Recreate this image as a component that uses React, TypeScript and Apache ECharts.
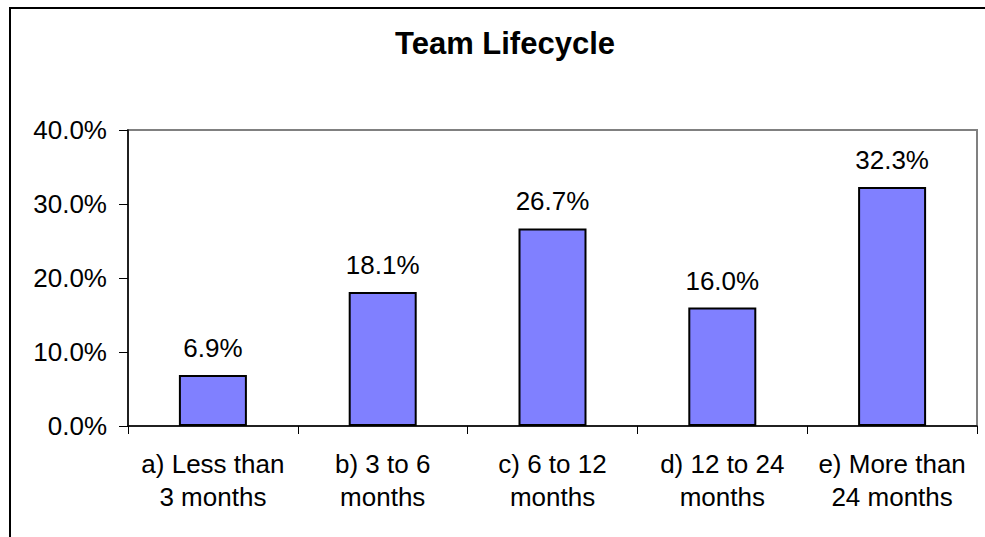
import React, { useEffect, useRef } from "react";
import * as echarts from "echarts";

const categories = [
  "a) Less than\n3 months",
  "b) 3 to 6\nmonths",
  "c) 6 to 12\nmonths",
  "d) 12 to 24\nmonths",
  "e) More than\n24 months",
];
const values = [6.9, 18.1, 26.7, 16.0, 32.3];
const titleText = "Team Lifecycle";

const FONT = "'Liberation Sans', Arial, sans-serif";

export default function App() {
  const ref = useRef<HTMLDivElement>(null);
  useEffect(() => {
    if (!ref.current) return;
    const chart = echarts.init(ref.current, undefined, { renderer: "svg" });
    chart.setOption({
      animation: false,
      backgroundColor: "#ffffff",
      textStyle: { fontFamily: FONT },
      title: {
        text: titleText,
        left: 505,
        top: 28,
        textAlign: "center",
        padding: 0,
        textStyle: { fontSize: 31, fontWeight: "bold", color: "#000", fontFamily: FONT },
      },
      graphic: [
        {
          type: "rect",
          shape: { x: 10, y: 8, width: 1100, height: 700 },
          style: { fill: "none", stroke: "#000", lineWidth: 2 },
          z: 100,
          silent: true,
        },
      ],
      grid: {
        left: 128,
        top: 130,
        right: 8,
        bottom: 111,
        show: true,
        borderColor: "#808080",
        borderWidth: 2,
        backgroundColor: "transparent",
      },
      xAxis: {
        type: "category",
        data: categories,
        axisLine: { show: true, lineStyle: { color: "#000", width: 1.5 } },
        axisTick: { show: true, length: 8, lineStyle: { color: "#000", width: 1 } },
        axisLabel: {
          color: "#000",
          fontSize: 26,
          lineHeight: 33,
          margin: 21,
          interval: 0,
          fontFamily: FONT,
        },
        splitLine: { show: false },
      },
      yAxis: {
        type: "value",
        min: 0,
        max: 40,
        interval: 10,
        axisLine: { show: true, lineStyle: { color: "#000", width: 1.5 } },
        axisTick: { show: true, length: 9, lineStyle: { color: "#000", width: 1 } },
        axisLabel: {
          color: "#000",
          fontSize: 26,
          margin: 21,
          fontFamily: FONT,
          formatter: (v: number) => v.toFixed(1) + "%",
        },
        splitLine: { show: false },
      },
      series: [
        {
          type: "bar",
          data: values,
          barWidth: 68,
          itemStyle: { color: "#8080FF", borderColor: "#000", borderWidth: 2 },
          label: {
            show: true,
            position: "top",
            distance: 14,
            color: "#000",
            fontSize: 26,
            fontFamily: FONT,
            formatter: (p: any) => Number(p.value).toFixed(1) + "%",
          },
        },
      ],
    });
    return () => chart.dispose();
  }, []);
  return (
    <div
      ref={ref}
      style={{ position: "fixed", left: 0, top: 0, width: 985, height: 537 }}
    />
  );
}
